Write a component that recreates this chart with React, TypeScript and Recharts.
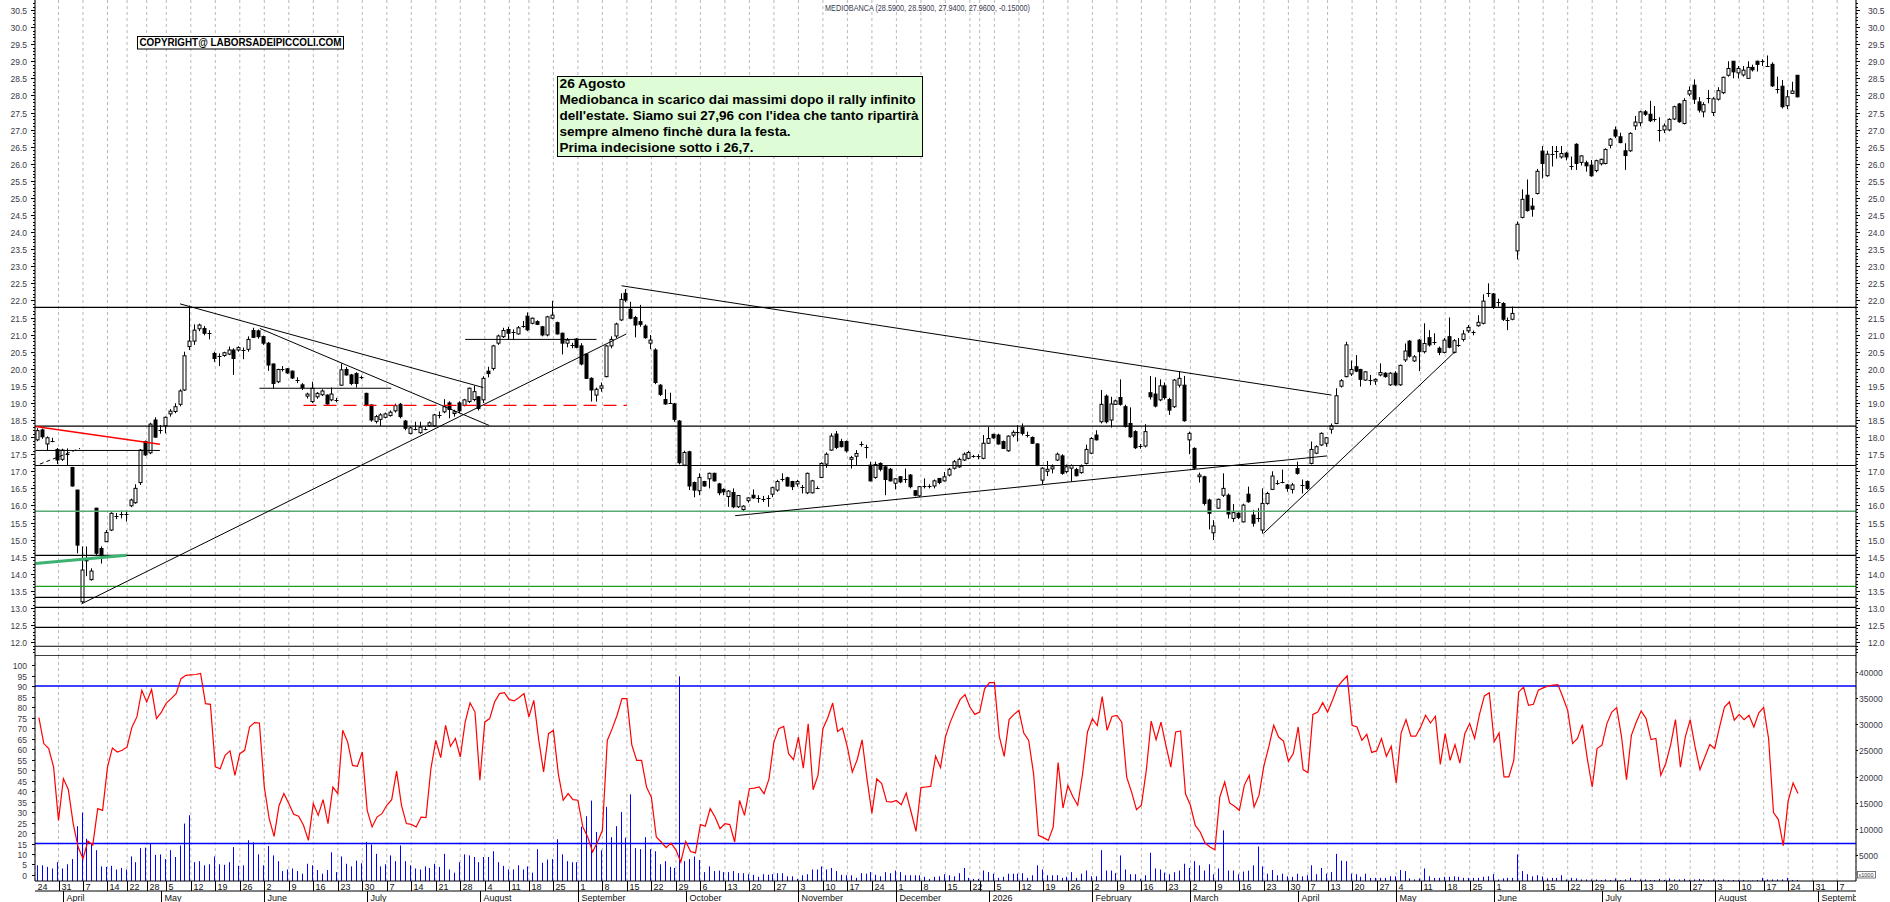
import React from 'react';
import { ComposedChart, Bar, Line, XAxis, YAxis, ReferenceLine, CartesianGrid } from 'recharts';

// ---------- DATA ----------
// Daily candles from 25 Mar 2025 (index 1) to 26 Aug 2026 (index 360): [open, high, low, close]
const candles: [number, number, number, number][] = [
  [17.92,18.26,17.88,18.19],[18.21,18.25,17.95,18.01],[17.80,18.02,17.60,17.98],[17.92,17.98,17.85,17.90],[17.64,17.68,17.21,17.33],
  [17.35,17.66,17.30,17.62],[17.52,17.67,17.18,17.50],[17.11,17.13,16.55,16.57],[16.45,16.46,14.60,14.84],[13.18,14.80,13.14,14.11],
  [14.42,14.80,13.93,14.38],[13.83,14.16,13.80,14.08],[15.92,15.93,14.55,14.60],[14.74,14.80,14.30,14.55],[14.94,15.28,14.93,15.21],
  [15.28,15.80,15.25,15.77],[15.66,15.78,15.60,15.69],[15.74,15.85,15.62,15.76],[15.76,15.85,15.53,15.74],[15.99,16.20,15.95,16.16],
  [16.08,16.62,16.05,16.50],[16.67,17.65,16.60,17.62],[17.87,17.90,17.45,17.48],[17.54,18.42,17.50,18.38],[18.50,18.58,17.98,18.00],
  [18.24,18.35,18.10,18.22],[18.33,18.60,18.11,18.58],[18.68,18.82,18.60,18.76],[18.75,18.99,18.70,18.89],[18.96,19.40,18.90,19.35],
  [19.38,20.50,19.35,20.38],[20.65,21.85,20.55,20.81],[20.81,21.30,20.70,21.13],[21.17,21.32,21.10,21.28],[21.18,21.25,20.98,21.04],
  [21.08,21.13,20.86,21.06],[20.45,20.50,20.20,20.30],[20.38,20.45,20.08,20.36],[20.39,20.50,20.35,20.47],[20.43,20.65,20.40,20.55],
  [20.55,20.60,19.82,20.30],[20.55,20.66,20.50,20.62],[20.58,20.62,20.28,20.56],[20.57,20.95,20.50,20.86],[21.12,21.20,20.90,20.92],
  [21.11,21.15,20.88,20.94],[20.94,20.97,20.70,20.75],[20.75,20.78,19.94,20.11],[20.14,20.16,19.43,19.57],[19.62,20.00,19.58,19.98],
  [20.00,20.08,19.92,19.98],[20.00,20.02,19.85,19.88],[19.93,19.95,19.70,19.73],[19.68,19.75,19.58,19.66],[19.53,19.58,19.38,19.45],
  [19.20,19.30,19.13,19.26],[19.04,19.62,19.00,19.43],[19.18,19.32,19.12,19.28],[19.24,19.40,19.20,19.35],[19.23,19.25,18.95,18.97],
  [19.09,19.45,19.05,19.26],[19.12,19.15,19.02,19.10],[19.52,20.16,19.50,19.97],[19.98,20.05,19.80,19.82],[19.82,19.85,19.52,19.57],
  [19.86,19.90,19.45,19.57],[19.78,19.80,19.70,19.76],[19.28,19.30,18.90,18.94],[18.94,18.96,18.45,18.50],[18.46,18.65,18.40,18.60],
  [18.52,18.70,18.33,18.65],[18.58,18.72,18.55,18.68],[18.63,18.78,18.60,18.73],[18.77,18.98,18.72,18.92],[18.96,19.00,18.55,18.60],
  [18.47,18.50,18.20,18.26],[18.11,18.30,18.08,18.27],[18.27,18.45,18.20,18.25],[18.13,18.45,18.10,18.29],[18.25,18.30,18.20,18.24],
  [18.33,18.46,18.30,18.42],[18.33,18.68,18.30,18.65],[18.65,18.75,18.55,18.64],[18.74,19.11,18.70,18.89],[19.00,19.05,18.55,18.81],
  [18.69,18.80,18.60,18.74],[19.00,19.05,18.70,18.77],[18.93,19.12,18.90,19.09],[19.04,19.45,19.00,19.43],[19.10,19.50,19.05,19.33],
  [19.18,19.20,18.78,18.84],[19.09,19.78,19.00,19.72],[19.93,20.06,19.75,19.86],[20.01,20.70,19.95,20.67],[20.75,21.00,20.70,20.96],
  [20.94,21.20,20.90,21.12],[21.15,21.23,20.84,21.04],[21.10,21.15,20.86,21.08],[21.02,21.25,21.00,21.20],[21.28,21.40,21.20,21.26],
  [21.54,21.65,21.10,21.14],[21.33,21.50,21.30,21.48],[21.38,21.42,21.28,21.30],[21.23,21.25,20.95,20.99],[20.99,21.55,20.95,21.52],
  [21.48,21.99,21.45,21.57],[21.35,21.38,21.00,21.02],[21.04,21.06,20.42,20.75],[20.75,20.90,20.63,20.84],[20.72,20.76,20.60,20.71],
  [20.87,20.90,20.60,20.63],[20.67,20.75,20.10,20.14],[20.43,20.45,19.70,19.72],[19.72,19.75,19.04,19.38],[19.23,19.45,19.04,19.40],
  [19.43,19.60,19.33,19.50],[19.77,20.70,19.75,20.67],[20.67,20.95,20.60,20.86],[20.96,21.35,20.90,21.31],[21.43,22.21,21.40,22.03],
  [22.21,22.33,21.95,22.01],[21.74,21.96,21.45,21.48],[21.50,21.55,20.92,21.28],[21.38,21.87,21.23,21.30],[21.25,21.30,20.88,20.91],
  [20.75,20.99,20.57,20.84],[20.55,20.60,19.55,19.60],[19.52,19.55,19.20,19.25],[19.10,19.40,18.95,18.97],[19.02,19.30,18.97,19.00],
  [18.97,19.00,18.45,18.52],[18.47,18.50,17.20,17.25],[17.18,17.60,17.15,17.55],[17.57,17.60,16.45,16.57],[16.67,16.70,16.24,16.45],
  [16.43,16.94,16.30,16.82],[16.70,16.72,16.55,16.57],[16.78,16.96,16.50,16.94],[16.94,16.96,16.70,16.72],[16.63,16.66,16.30,16.37],
  [16.47,16.50,16.30,16.40],[16.26,16.45,15.96,16.42],[16.38,16.50,15.92,15.96],[15.96,16.30,15.93,16.29],[15.88,16.00,15.84,15.98],
  [16.14,16.24,16.08,16.22],[16.30,16.47,16.20,16.22],[16.24,16.30,16.08,16.23],[16.21,16.28,16.10,16.20],[16.23,16.30,15.96,16.22],
  [16.33,16.55,16.24,16.52],[16.45,16.75,16.40,16.70],[16.74,16.94,16.70,16.76],[16.81,16.84,16.55,16.57],[16.70,16.72,16.45,16.55],
  [16.63,16.75,16.55,16.70],[16.55,16.60,16.35,16.54],[16.37,16.96,16.33,16.94],[16.37,16.75,16.35,16.72],[16.52,16.56,16.48,16.51],
  [16.82,17.26,16.80,17.23],[17.21,17.55,17.10,17.50],[17.62,18.11,17.60,18.03],[18.09,18.18,17.65,17.70],[17.87,17.95,17.70,17.72],
  [17.87,17.90,17.55,17.60],[17.35,17.45,17.08,17.40],[17.44,17.62,17.18,17.52],[17.80,17.87,17.72,17.81],[17.72,17.78,17.38,17.71],
  [17.18,17.28,16.70,16.72],[16.82,17.28,16.78,17.20],[17.23,17.26,17.00,17.06],[17.13,17.15,16.30,16.76],[17.06,17.10,16.70,16.72],
  [16.65,16.80,16.47,16.78],[16.84,16.86,16.65,16.69],[16.79,17.08,16.66,16.78],[16.89,16.92,16.50,16.55],[16.43,16.45,16.27,16.30],
  [16.28,16.57,16.25,16.55],[16.57,16.79,16.50,16.56],[16.57,16.62,16.50,16.58],[16.57,16.76,16.50,16.72],[16.79,16.80,16.62,16.67],
  [16.72,16.98,16.70,16.84],[16.89,17.10,16.85,17.06],[17.09,17.33,17.05,17.28],[17.13,17.40,17.10,17.35],[17.33,17.55,17.30,17.50],
  [17.38,17.60,17.35,17.55],[17.45,17.48,17.40,17.44],[17.45,17.50,17.35,17.44],[17.38,18.06,17.35,17.82],[17.82,18.30,17.80,17.96],
  [18.08,18.10,17.95,17.98],[18.06,18.10,17.78,17.80],[17.87,17.90,17.65,17.67],[17.60,18.05,17.57,18.03],[18.06,18.20,18.00,18.14],
  [18.16,18.35,17.87,18.15],[18.28,18.40,18.05,18.11],[18.06,18.16,17.99,18.05],[17.99,18.02,17.80,17.82],[17.80,17.82,17.15,17.18],
  [16.74,17.12,16.62,17.09],[17.00,17.30,16.86,17.06],[17.07,17.20,16.94,17.13],[17.33,17.55,17.30,17.50],[17.45,17.50,16.90,16.94],
  [16.99,17.20,16.94,17.13],[17.09,17.20,16.70,17.17],[17.05,17.10,16.85,16.87],[16.96,17.20,16.93,17.15],[17.23,17.78,17.20,17.64],
  [17.53,18.00,17.50,17.96],[18.06,18.20,17.90,17.92],[18.45,19.38,18.40,18.96],[19.20,19.25,18.40,18.45],[18.50,19.18,18.28,18.97],
  [18.96,19.10,18.94,19.06],[19.16,19.69,18.92,18.96],[18.89,18.95,18.28,18.31],[18.40,18.87,17.98,18.01],[18.16,18.20,17.65,17.69],
  [17.74,17.80,17.66,17.73],[17.74,18.38,17.70,18.16],[19.30,19.79,19.10,19.18],[19.26,19.75,18.87,18.91],[19.09,19.69,19.05,19.50],
  [19.50,19.60,19.10,19.16],[19.10,19.15,18.65,18.79],[18.89,19.70,18.85,19.67],[19.52,19.93,19.45,19.72],[19.52,19.79,18.45,18.48],
  [17.92,18.16,17.50,18.11],[17.67,17.70,17.05,17.09],[16.84,16.96,16.67,16.89],[16.84,16.87,16.00,16.06],[16.16,16.20,15.30,15.77],
  [15.20,15.57,14.99,15.40],[15.92,16.20,15.90,16.18],[16.30,16.94,16.25,16.50],[16.30,16.35,15.62,15.75],[15.62,16.04,15.52,15.79],
  [15.77,15.80,15.60,15.65],[15.52,16.05,15.50,16.01],[16.33,16.55,16.08,16.11],[15.72,15.87,15.38,15.48],[15.62,15.92,15.52,15.63],
  [15.28,16.50,15.18,16.06],[16.06,16.40,16.02,16.35],[16.47,17.00,16.45,16.86],[16.67,16.74,16.60,16.66],[16.70,17.05,16.65,16.69],
  [16.60,16.63,16.40,16.50],[16.47,16.66,16.35,16.60],[17.08,17.28,16.90,16.94],[16.60,16.76,16.35,16.59],[16.70,16.73,16.45,16.50],
  [17.23,17.87,17.20,17.64],[17.53,17.76,17.50,17.72],[17.77,18.14,17.74,18.11],[17.82,18.00,17.72,17.98],[18.23,18.40,18.10,18.33],
  [18.40,19.43,18.38,19.21],[19.49,19.70,19.45,19.65],[19.77,20.79,19.75,20.70],[19.85,20.24,19.79,19.98],[20.06,20.40,19.90,19.93],
  [19.98,20.00,19.48,19.69],[19.67,19.93,19.65,19.91],[19.67,19.82,19.52,19.68],[19.64,19.72,19.53,19.69],[19.82,20.16,19.78,19.89],
  [19.87,19.90,19.74,19.77],[19.53,19.90,19.50,19.87],[19.87,19.93,19.50,19.53],[19.53,20.12,19.50,20.10],[20.26,20.74,20.20,20.52],
  [20.81,20.84,20.33,20.37],[20.23,20.40,20.20,20.35],[20.84,20.87,19.93,20.50],[20.50,21.33,20.45,20.74],[20.91,21.13,20.65,20.70],
  [20.78,21.04,20.70,20.77],[20.60,20.65,20.40,20.48],[20.48,20.90,20.45,20.84],[20.94,21.50,20.60,20.63],[20.48,20.87,20.45,20.82],
  [20.72,20.90,20.64,20.71],[20.86,21.13,20.80,21.02],[21.11,21.28,21.05,21.21],[21.09,21.12,20.98,21.08],[21.26,21.57,21.23,21.36],
  [21.33,22.18,21.30,21.98],[22.23,22.50,22.10,22.22],[22.19,22.22,21.75,21.80],[21.96,22.05,21.82,21.95],[21.91,21.95,21.40,21.45],
  [21.45,21.50,21.13,21.44],[21.45,21.82,21.42,21.62],[23.45,24.31,23.20,24.23],[24.43,25.25,24.40,24.96],[25.08,25.54,24.60,24.63],
  [24.76,25.00,24.45,24.67],[25.13,25.85,25.10,25.78],[26.37,26.52,25.57,26.01],[25.65,26.38,25.62,26.28],[26.31,26.52,25.92,26.30],
  [26.38,26.52,26.15,26.37],[26.20,26.52,26.15,26.30],[26.31,26.35,26.10,26.20],[25.93,26.21,25.82,25.94],[26.57,26.60,25.82,26.01],
  [26.04,26.25,25.95,26.23],[26.03,26.09,25.77,25.94],[25.96,26.11,25.62,25.65],[25.80,26.12,25.75,26.09],[26.00,26.15,25.95,26.13],
  [26.01,26.45,25.98,26.42],[26.54,26.75,26.45,26.72],[26.99,27.09,26.75,26.81],[26.79,26.91,26.60,26.62],[26.38,26.60,25.82,26.24],
  [26.38,26.92,26.35,26.89],[27.11,27.40,26.99,27.22],[27.20,27.55,27.10,27.52],[27.52,27.57,27.40,27.45],[27.45,27.84,27.22,27.26],
  [27.31,27.69,27.23,27.30],[27.01,27.36,26.65,27.00],[26.99,27.18,26.90,27.11],[26.99,27.33,26.95,27.30],[27.31,27.70,27.28,27.67],
  [27.75,27.78,27.20,27.23],[27.18,27.92,27.15,27.85],[28.04,28.26,27.98,28.14],[28.30,28.47,27.75,27.89],[27.81,27.95,27.50,27.57],
  [27.52,27.80,27.36,27.73],[27.93,28.16,27.77,27.92],[27.50,27.95,27.40,27.90],[27.89,28.24,27.85,28.14],[28.08,28.55,28.04,28.53],
  [28.59,29.00,28.55,28.79],[29.00,29.01,28.50,28.69],[28.66,28.86,28.50,28.79],[28.60,28.86,28.55,28.74],[28.50,29.00,28.48,28.82],
  [28.82,28.90,28.70,28.75],[29.00,29.02,28.70,28.91],[29.00,29.06,28.86,29.00],[28.86,29.17,28.84,28.86],[28.91,28.97,28.25,28.28],
  [28.21,28.55,28.06,28.18],[28.27,28.45,27.62,27.67],[27.70,28.16,27.60,27.96],[28.06,28.40,28.04,28.13],[28.59,28.59,27.94,27.96],
];

// Oscillator (0-100), same days
const oscillator: number[] = [
  75,62.6,60.2,51.4,26,45.9,40.7,24.5,13.3,7.8, 16.2,14.2,31.6,30.8,51.4,60.5,58.6,59.4,61,70.5,
  75.3,88,82.4,88.3,74.5,77.6,81.9,84,86.4,93.5, 95.1,95.3,95.5,96,81.6,81.3,51.5,50.6,57,59.1,
  47.5,57.8,59.4,70.5,72.6,72.4,41.9,26.8,18.4,33, 38.8,34,28.9,28,23.7,16.5,34,28.4,35.9,24.5,
  41.9,38.8,68.9,63.4,52.2,51.8,58.6,30.8,22.9,27.6, 29.2,33.2,35.9,49.5,33.2,24.5,24.1,22.9,27.6,27.3,
  50.6,64.1,55.9,71.3,61.3,65,56.2,72.9,82,77.6, 45.1,72.9,74.5,82.4,86.4,86.8,83.5,82.9,84.5,86.4,
  75.3,83.2,64.5,49.1,67.3,68.9,48.3,35.6,38.8,35.9, 35.6,22.9,18.1,11,15.7,21.3,64.1,69.7,76.1,84,
  84,62,54.6,54.6,41.9,37,18.1,15.7,13,15.2, 12,6.2,16,11.2,10.5,24,23.2,31.6,27.6,22.1,
  24.4,24,15.7,35.5,28.4,41.1,41.4,41.9,38.7,45.8, 63.3,69.7,70.8,57.8,54.9,65.7,50.9,72,40.6,47.4,
  69.7,74.9,81.9,68.4,70,60.9,49,54.9,64.4,45.8, 29.5,45.8,43.5,35,34.7,35.5,33.5,39,30,20.8,
  41.6,41.9,42.2,56.6,51.1,65.7,72.8,78.4,83.5,85.9, 80,76.5,77.6,88.7,91.6,91.6,66,56.5,74,76.5,
  78.4,67.6,64.1,48.2,18.9,17.8,16.5,22.8,53.5,31.9, 42.7,37.4,33.2,48.2,68.1,74.4,71.2,85,68.9,75.5,
  76,72.8,46.6,39.5,31.1,33.2,49.8,73.3,64.4,72.8, 61.7,51.4,68.1,68.6,38.7,33.2,23.6,20.5,15.2,13.3,
  12,37.1,44.3,34.3,32.7,30.8,42.7,47.4,32.4,38, 52,61,71.3,65.7,63.8,54.1,57.8,70.5,50.2,48.7,
  76.5,77.6,82.1,77.6,83.2,89.5,92.4,94.8,71.3,70.5, 64.1,67,58.4,59.1,65,56.5,61.3,43.8,67.6,74,
  66.1,66.1,70.5,76.1,72.4,75.6,52.7,67.3,54.6,62.1, 53.3,67.3,72.1,65,76.5,85.3,86.8,63.4,67.6,46.7,
  46.7,54.6,87.2,89.5,80.8,81.3,88,89.1,90,90.4, 90.7,84.8,78.4,62.6,65,71.6,55.4,41.9,60.2,61.8,
  72.1,77.6,79.7,65.7,45.4,66.5,72.9,78.1,74.5,64.5, 65,47.5,53,61.8,74,51.4,65.7,74,61,50.2,
  56.2,62.1,60.2,70.5,80,82.4,73.7,76.5,74,76.1, 70.5,77.2,79.7,65,29.7,26.4,14,35.3,43.8,38.8,
];

// Volume in thousands, same days
const volumeK: number[] = [
  3.0,3.0,2.7,2.4,3.6,2.4,3.2,4.2,10.5,13.1, 8.1,7.2,5.9,2.8,2.7,2.9,2.2,2.5,2.2,4.7,
  3.6,6.3,6.4,7.2,5.0,5.1,4.2,5.9,4.6,6.8, 11,12.6,3.6,3.8,3.0,3.2,4.7,3.2,3.1,3.6,
  6.5,2.9,3.0,7.8,7.4,5.1,3.0,6.7,4.9,3.8, 1.9,2.2,2.4,1.9,1.4,3.3,3.0,2.1,1.4,2.1,
  5.5,1.7,4.7,3.3,2.8,3.9,3.4,7.5,7.0,5.2, 2.8,3.2,4.9,3.8,6.8,3.8,3.0,2.4,2.2,2.8,
  2.5,3.3,2.7,5.2,2.2,1.6,3.6,5.1,4.9,4.6, 3.6,4.6,4.6,5.7,3.6,2.9,2.2,2.2,3.0,2.2,
  2.8,1.6,6.1,3.5,4.1,4.2,8.0,5.1,3.8,3.6, 3.6,10.4,12.4,15.4,9.4,5.9,14.2,8.4,10.5,13.2,8.3,
  16.6,6.3,6.1,8.4,6.1,5.7,3.2,3.8,2.7,2.5, 39.2,3.8,4.2,4.7,4.0,1.7,2.8,1.9,2.0,1.7,
  1.7,1.9,1.5,1.5,1.3,1.2,0.8,1.3,1.2,1.3, 1.5,1.5,0.9,0.9,0.4,1.1,1.3,2.2,2.2,2.8,
  2.2,2.5,1.9,1.2,1.1,1.1,0.6,1.5,1.4,1.7, 1.2,0.9,1.7,1.5,2.0,1.7,1.1,1.1,1.1,1.1,
  0.8,0.4,0.8,0.9,1.3,1.1,0.9,1.5,2.5,0.6, 0.4,0.4,2.0,1.7,1.4,0.6,0.8,1.4,1.4,1.4,
  1.5,0.6,1.1,3.0,2.2,1.1,1.1,1.1,0.6,0.8, 1.7,0.6,1.4,2.0,0.9,0.9,5.9,2.0,2.0,1.5,
  4.9,2.2,1.3,1.3,0.4,1.1,5.4,2.4,2.2,1.6, 1.3,1.7,2.0,3.3,2.5,3.8,3.0,2.0,3.2,1.3,
  2.4,9.7,2.0,2.0,1.3,1.8,2.0,3.0,6.6,2.8, 1.4,2.1,1.1,1.4,0.9,0.8,1.4,0.9,1.1,3.0,
  1.3,2.5,1.4,1.7,5.2,3.9,3.8,1.4,1.3,0.8, 1.4,0.6,0.6,0.6,0.6,0.9,0.9,2.1,1.9,0.5,
  0.3,0.5,2.4,0.9,0.6,0.6,0.8,0.8,0.9,0.8, 0.6,0.6,0.6,0.6,0.8,0.9,1.3,0.3,0.5,0.6,
  0.6,5.1,1.9,1.3,0.9,1.1,0.9,0.5,0.6,0.6, 1.1,0.3,0.6,0.5,0.3,0.3,0.3,0.3,0.2,0.3,
  0.2,0.5,0.2,0.3,0.6,0.2,0.3,0.3,0.2,0.2, 0.4,0.2,0.5,0.3,0.3,0.4,0.2,0.3,0.4,0.3,
  0.2,0.3,0.2,0.3,0.2,0.2,0.2,0.2,0.1,0.1, 0.2,0.6,0.3,0.3,0.3,0.3,0.6,0.2,0.2,
];

// Horizontal support / resistance levels
const blackLevels = [21.8, 18.32, 17.17, 14.54, 13.31, 13.02, 12.43, 11.88];
const greenLevels = [
  { y: 15.83, color: '#5aa874' },
  { y: 13.63, color: '#18a018' },
];
// Trend lines drawn on the price panel: [startDay, startPrice, endDay, endPrice]
const blackTrends: [number, number, number, number][] = [
  [9.7, 13.12, 120.9, 21.02],
  [29.8, 21.9, 91.7, 19.45],
  [46.1, 21.18, 92.9, 18.34],
  [46.0, 19.43, 72.9, 19.43],
  [88.0, 20.86, 114.8, 20.86],
  [0.3, 17.61, 25.7, 17.61],
  [119.9, 22.43, 264.8, 19.23],
  [143.1, 15.7, 263.9, 17.45],
  [250.9, 15.18, 290.0, 20.5],
];
const redTrend: [number, number, number, number] = [0.3, 18.31, 25.7, 17.79];
const redDashed: [number, number, number, number] = [55, 18.93, 121, 18.93];
const greenTrend: [number, number, number, number] = [0.3, 14.3, 18.9, 14.54];
const dashedBlack: [number, number, number, number] = [1.2, 17.21, 9.4, 17.67];

const oscLevels = [90, 15];
const oscTicks = [0, 5, 10, 15, 20, 25, 30, 35, 40, 45, 50, 55, 60, 65, 70, 75, 80, 85, 90, 95, 100];
const volTicks = [5000, 10000, 15000, 20000, 25000, 30000, 35000, 40000];

const HOLIDAYS = ['2025-04-18', '2025-04-21', '2025-05-01', '2025-08-15', '2025-12-24', '2025-12-25', '2025-12-26', '2025-12-31', '2026-01-01', '2026-04-03', '2026-04-06', '2026-05-01'];
const MONTH_NAMES = ['January', 'February', 'March', 'April', 'May', 'June', 'July', 'August', 'September', 'October', 'November', 'December'];

const titleText = 'MEDIOBANCA (28.5900, 28.5900, 27.9400, 27.9600, -0.15000)';
const copyrightText = 'COPYRIGHT@ LABORSADEIPICCOLI.COM';
const noteLines = [
  '26 Agosto',
  'Mediobanca in scarico dai massimi dopo il rally infinito',
  "dell'estate. Siamo sui 27,96 con l'idea che tanto ripartirà",
  'sempre almeno finchè dura la festa.',
  'Prima indecisione sotto i 26,7.',
];

// ---------- CONSTANTS / DERIVED ----------
const FONT = '"Liberation Sans", Arial, sans-serif';
const X0 = 0.204;
const X1 = 371.84;
const P_MIN = 11.594;
const P_MAX = 30.793;
const OSC_MIN = -2.86;
const OSC_MAX = 104.3;
const VOL_MAX = 43100;
const LEFT_W = 35;
const RIGHT_W = 34;
const W = 1890;
const RIGHT_EDGE = W - RIGHT_W;

const calendar: Date[] = (() => {
  const out: Date[] = [];
  const d = new Date(Date.UTC(2025, 2, 24));
  while (out.length < 374) {
    const wd = d.getUTCDay();
    const iso = d.toISOString().slice(0, 10);
    if (wd !== 0 && wd !== 6 && !HOLIDAYS.includes(iso)) out.push(new Date(d.getTime()));
    d.setUTCDate(d.getUTCDate() + 1);
  }
  return out;
})();
const dow = (d: Date) => (d.getUTCDay() + 6) % 7;

const weekStarts: number[] = [];
calendar.forEach((d, i) => {
  if (i === 0) { weekStarts.push(0); return; }
  const p = calendar[i - 1];
  if (dow(d) <= dow(p) || d.getTime() - p.getTime() >= 7 * 864e5) weekStarts.push(i);
});
const visibleWeeks = weekStarts.filter((i) => i <= X1);
const dayLabels = new Map<number, string>();
let lastLabelled = -10;
visibleWeeks.forEach((i) => {
  if (i - lastLabelled >= 3) {
    dayLabels.set(i === 0 ? X0 : i, String(calendar[i].getUTCDate()));
    lastLabelled = i;
  }
});
const dayTicks = visibleWeeks.map((i) => (i === 0 ? X0 : i));
const gridWeeks = visibleWeeks.filter((i) => i > 0);

const monthStarts: number[] = [];
const monthLabels = new Map<number, string>();
calendar.forEach((d, i) => {
  if (i === 0 || i > X1) return;
  const p = calendar[i - 1];
  if (d.getUTCMonth() !== p.getUTCMonth()) {
    monthStarts.push(i);
    monthLabels.set(i, d.getUTCMonth() === 0 ? String(d.getUTCFullYear()) : MONTH_NAMES[d.getUTCMonth()]);
  }
});

const priceData = candles.map((c, k) => ({ i: k + 1, o: c[0], h: c[1], l: c[2], c: c[3], range: [c[2], c[1]] }));
const lowerData = oscillator.map((v, k) => ({ i: k + 1, osc: v, vol: volumeK[k] * 1000 }));

const priceTicks: number[] = [];
for (let t = 116; t <= 307; t++) priceTicks.push(t / 10);
const isMajor = (v: number) => Math.abs(v * 2 - Math.round(v * 2)) < 1e-6;

// ---------- SHAPES ----------
const Candle = (props: any) => {
  const { x, y, width, height, payload } = props;
  if (x == null || y == null || !payload) return null;
  const top = Math.min(y, y + height);
  const bot = Math.max(y, y + height);
  const { o, h, l, c } = payload;
  const k = h > l ? (bot - top) / (h - l) : 0;
  const yo = top + (h - o) * k;
  const yc = top + (h - c) * k;
  const cx = Math.round(x + width / 2);
  const bTop = Math.min(yo, yc);
  const bBot = Math.max(yo, yc);
  const up = c >= o;
  return (
    <g>
      <line x1={cx - 0.5} x2={cx - 0.5} y1={top} y2={bot} stroke="#000" strokeWidth={1} />
      {bBot - bTop < 1.2 ? (
        <line x1={cx - 2.5} x2={cx + 1.5} y1={Math.round(yc) + 0.5} y2={Math.round(yc) + 0.5} stroke="#000" strokeWidth={1} />
      ) : (
        <rect x={cx - 2} y={bTop} width={3} height={bBot - bTop} fill={up ? '#fff' : '#000'} stroke="#000" strokeWidth={1} />
      )}
    </g>
  );
};

const VolBar = (props: any) => {
  const { x, y, width, height } = props;
  if (x == null || !height) return null;
  const cx = Math.round(x + width / 2) - 0.5;
  return <line x1={cx} x2={cx} y1={y} y2={y + height} stroke="#0000ff" strokeWidth={1} />;
};

const PriceTickLeft = (props: any) => {
  const { y, payload } = props;
  const v = payload.value;
  const major = isMajor(v);
  const yy = Math.round(y) + 0.5;
  return (
    <g>
      <line x1={LEFT_W - (major ? 4 : 2)} x2={LEFT_W} y1={yy} y2={yy} stroke="#000" />
      {major && v >= 12 && v <= 30.5 && (
        <text x={27} y={yy + 3} textAnchor="end" fontSize={8.5} fill="#3a3a48" fontFamily={FONT}>{v.toFixed(1)}</text>
      )}
    </g>
  );
};

const PriceTickRight = (props: any) => {
  const { y, payload } = props;
  const v = payload.value;
  const major = isMajor(v);
  const yy = Math.round(y) + 0.5;
  return (
    <g>
      <line x1={RIGHT_EDGE} x2={RIGHT_EDGE + (major ? 4 : 2)} y1={yy} y2={yy} stroke="#000" />
      {major && v >= 12 && v <= 30.5 && (
        <text x={RIGHT_EDGE + 12} y={yy + 3} textAnchor="start" fontSize={8.5} fill="#3a3a48" fontFamily={FONT}>{v.toFixed(1)}</text>
      )}
    </g>
  );
};

const OscTick = (props: any) => {
  const { y, payload } = props;
  const yy = Math.round(y) + 0.5;
  return (
    <g>
      <line x1={LEFT_W - 3} x2={LEFT_W} y1={yy} y2={yy} stroke="#000" />
      <text x={27} y={yy + 3} textAnchor="end" fontSize={8.5} fill="#3a3a48" fontFamily={FONT}>{payload.value}</text>
    </g>
  );
};

const VolTick = (props: any) => {
  const { y, payload } = props;
  const yy = Math.round(y) + 0.5;
  return (
    <g>
      <line x1={RIGHT_EDGE} x2={RIGHT_EDGE + 2} y1={yy} y2={yy} stroke="#000" />
      <text x={RIGHT_EDGE + 3} y={yy + 3} textAnchor="start" fontSize={8.5} fill="#3a3a48" fontFamily={FONT}>{payload.value}</text>
    </g>
  );
};

const LOWER_PLOT_H = 225;

const DayTick = (props: any) => {
  const { x, payload } = props;
  const px = Math.round(x) + 0.5;
  const lab = dayLabels.get(payload.value);
  return (
    <g>
      {payload.value > X0 && <line x1={px} x2={px} y1={LOWER_PLOT_H} y2={LOWER_PLOT_H + 10} stroke="#000" />}
      {lab && (
        <text x={px + 2} y={LOWER_PLOT_H + 8.5} fontSize={9} fill="#111" fontFamily={FONT}>{lab}</text>
      )}
    </g>
  );
};

const MonthTick = (props: any) => {
  const { x, payload } = props;
  const px = Math.round(x) + 0.5;
  const lab = monthLabels.get(payload.value) || '';
  const w = Math.max(0, RIGHT_EDGE - px);
  return (
    <g>
      <line x1={px} x2={px} y1={LOWER_PLOT_H + 10} y2={LOWER_PLOT_H + 21} stroke="#000" />
      <svg x={px} y={LOWER_PLOT_H + 10} width={w} height={11} overflow="hidden">
        <text x={3} y={9.5} fontSize={9} fill="#111" fontFamily={FONT}>{lab}</text>
      </svg>
    </g>
  );
};

const seg = (t: [number, number, number, number]) => [
  { x: t[0], y: t[1] },
  { x: t[2], y: t[3] },
];

// ---------- CHARTS ----------
const PriceChart = () => (
  <ComposedChart width={W} height={656} data={priceData} margin={{ top: 0, right: 0, bottom: 0, left: 0 }}>
    <XAxis dataKey="i" type="number" domain={[X0, X1]} allowDataOverflow hide ticks={gridWeeks} interval={0} />
    <YAxis yAxisId="l" orientation="left" width={LEFT_W} type="number" domain={[P_MIN, P_MAX]} allowDataOverflow
      ticks={priceTicks} interval={0} tickLine={false} axisLine={{ stroke: '#000' }} tick={PriceTickLeft} />
    <YAxis yAxisId="r" orientation="right" width={RIGHT_W} type="number" domain={[P_MIN, P_MAX]} allowDataOverflow
      ticks={priceTicks} interval={0} tickLine={false} axisLine={{ stroke: '#000' }} tick={PriceTickRight} />
    <CartesianGrid yAxisId="l" horizontal={false} vertical stroke="#b9b9b9" strokeDasharray="3 3" />
    {blackLevels.map((y) => (
      <ReferenceLine key={'b' + y} yAxisId="l" y={y} stroke="#000" strokeWidth={1.2} />
    ))}
    {greenLevels.map((g) => (
      <ReferenceLine key={'g' + g.y} yAxisId="l" y={g.y} stroke={g.color} strokeWidth={1.3} />
    ))}
    <ReferenceLine yAxisId="l" y={11.6} stroke="#000" strokeWidth={1.2} />
    {blackTrends.map((t, k) => (
      <ReferenceLine key={'t' + k} yAxisId="l" segment={seg(t)} stroke="#000" strokeWidth={1} />
    ))}
    <ReferenceLine yAxisId="l" segment={seg(dashedBlack)} stroke="#000" strokeWidth={1} strokeDasharray="4 3" />
    <ReferenceLine yAxisId="l" segment={seg(redTrend)} stroke="#ff0000" strokeWidth={1.4} />
    <ReferenceLine yAxisId="l" segment={seg(redDashed)} stroke="#ff0000" strokeWidth={1.4} strokeDasharray="13 7" />
    <ReferenceLine yAxisId="l" segment={seg(greenTrend)} stroke="#3cb371" strokeWidth={3} />
    <Bar yAxisId="l" dataKey="range" barSize={4} shape={Candle} isAnimationActive={false} />
  </ComposedChart>
);

const LowerChart = () => (
  <ComposedChart width={W} height={246} data={lowerData} margin={{ top: 0, right: 0, bottom: 0, left: 0 }}>
    <XAxis xAxisId="d" dataKey="i" type="number" domain={[X0, X1]} allowDataOverflow ticks={dayTicks} interval={0}
      tickLine={false} height={10} axisLine={{ stroke: '#000' }} tick={DayTick} />
    <XAxis xAxisId="m" dataKey="i" type="number" domain={[X0, X1]} allowDataOverflow ticks={monthStarts} interval={0}
      tickLine={false} height={11} axisLine={{ stroke: '#000' }} tick={MonthTick} />
    <YAxis yAxisId="osc" orientation="left" width={LEFT_W} type="number" domain={[OSC_MIN, OSC_MAX]} allowDataOverflow
      ticks={oscTicks} interval={0} tickLine={false} axisLine={{ stroke: '#000' }} tick={OscTick} />
    <YAxis yAxisId="vol" orientation="right" width={RIGHT_W} type="number" domain={[0, VOL_MAX]} allowDataOverflow
      ticks={volTicks} interval={0} tickLine={false} axisLine={{ stroke: '#000' }} tick={VolTick} />
    <CartesianGrid xAxisId="d" yAxisId="osc" horizontal={false} vertical stroke="#b9b9b9" strokeDasharray="3 3" />
    {oscLevels.map((y) => (
      <ReferenceLine key={'o' + y} xAxisId="d" yAxisId="osc" y={y} stroke="#0000ff" strokeWidth={1.4} />
    ))}
    <Bar xAxisId="d" yAxisId="vol" dataKey="vol" barSize={2} shape={VolBar} isAnimationActive={false} />
    <Line xAxisId="d" yAxisId="osc" dataKey="osc" type="linear" stroke="#ff0000" strokeWidth={1.2} dot={false}
      isAnimationActive={false} />
  </ComposedChart>
);

const Overlay = () => (
  <svg width={W} height={200} style={{ position: 'absolute', left: 0, top: 0, pointerEvents: 'none' }}>
    <text x={825} y={10.5} fontSize={8.5} fill="#3a3a50" fontFamily={FONT} textLength={205} lengthAdjust="spacingAndGlyphs">
      {titleText}
    </text>
    <rect x={137.5} y={36.5} width={206} height={12.5} fill="#fff" stroke="#000" strokeWidth={1} />
    <text x={139.5} y={46} fontSize={10} fontWeight="bold" fill="#000" fontFamily={FONT} textLength={202} lengthAdjust="spacingAndGlyphs">
      {copyrightText}
    </text>
    <rect x={557.5} y={76.5} width={365} height={80} fill="#defcd6" stroke="#000" strokeWidth={1} />
    {noteLines.map((t, k) => {
      const lens = [66, 356, 359, 231, 194];
      return (
        <text key={k} x={559.5} y={88 + k * 16} fontSize={13} fontWeight="bold" fill="#000" fontFamily={FONT}
          textLength={lens[k]} lengthAdjust="spacingAndGlyphs">
          {t}
        </text>
      );
    })}
  </svg>
);

const VolUnitBox = () => (
  <svg width={40} height={12} style={{ position: 'absolute', left: 1852, top: 869, pointerEvents: 'none' }}>
    <rect x={5.5} y={2.5} width={18} height={6.5} fill="#fff" stroke="#555" strokeWidth={0.8} />
    <text x={6.5} y={8} fontSize={5.5} fill="#333" fontFamily={FONT}>x1000</text>
  </svg>
);

export default function App() {
  return (
    <div style={{ position: 'absolute', left: 0, top: 0, width: W, height: 902, overflow: 'hidden', background: '#fff', fontFamily: FONT }}>
      <div style={{ position: 'absolute', left: 0, top: 0 }}>
        <PriceChart />
      </div>
      <div style={{ position: 'absolute', left: 0, top: 656 }}>
        <LowerChart />
      </div>
      <Overlay />
      <VolUnitBox />
    </div>
  );
}
